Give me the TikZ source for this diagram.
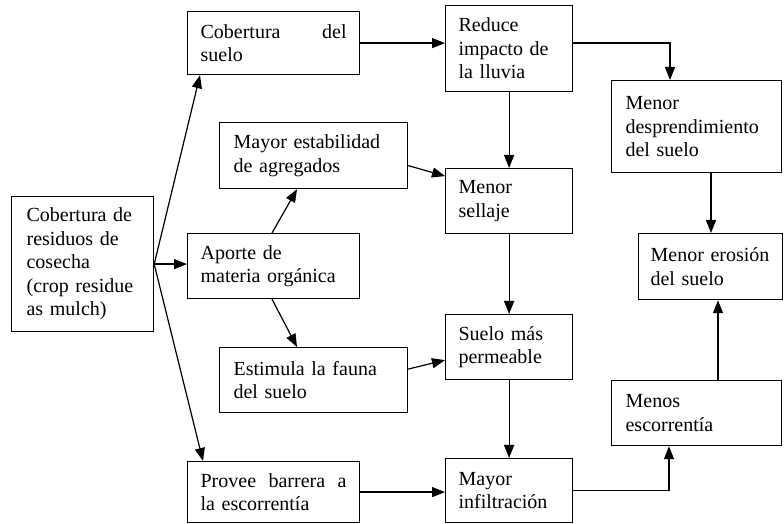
\documentclass[tikz,border=0pt]{standalone}
\usepackage{fontspec}
\setmainfont{Liberation Serif}
\usetikzlibrary{arrows.meta,calc,positioning}

\begin{document}
\begin{tikzpicture}[x=0.5pt,y=-0.5pt,>={Triangle[length=6.5pt,width=5pt]},
          every node/.style={font=\fontsize{10}{11.75}\selectfont},
          caja/.style={draw,line width=0.6pt,anchor=north west,align=left,
            inner xsep=7pt,inner ysep=1pt},
          flecha/.style={->,line width=0.6pt}]
        \useasboundingbox (0,0) rectangle (784,524);
        \node[caja,inner xsep=7.5pt,text width=56pt,minimum height=67.5pt] (res) at (11,196)
          {Cobertura de\\residuos de\\cosecha\\(crop residue\\as mulch)};
        \node[caja,inner xsep=6.5pt,text width=73pt,minimum height=31.5pt] (cob) at (187,11)
          {Cobertura\hfill del\\suelo};
        \node[caja,inner xsep=6.5pt,text width=73pt,minimum height=32.5pt] (apo) at (187,233)
          {Aporte de\\materia orgánica};
        \node[caja,inner xsep=6.5pt,text width=73pt,minimum height=30.5pt] (prov) at (187,461)
          {Provee\hfill barrera\hfill a\\la escorrentía};
        \node[caja,text width=80pt,minimum height=33pt] (mest) at (219,122)
          {Mayor estabilidad\\de agregados};
        \node[caja,text width=80pt,minimum height=32.5pt] (est) at (219,347)
          {Estimula la fauna\\del suelo};
        \node[caja,inner xsep=6.5pt,text width=50.5pt,minimum height=43pt] (red) at (445,5)
          {Reduce\\impacto de\\la lluvia};
        \node[caja,inner xsep=6.5pt,text width=50.5pt,minimum height=32.5pt] (sel) at (445,168)
          {Menor\\sellaje};
        \node[caja,inner xsep=6.5pt,text width=50.5pt,minimum height=32.5pt] (sue) at (445,314)
          {Suelo más\\permeable};
        \node[caja,inner xsep=6.5pt,text width=50.5pt,minimum height=32pt] (inf) at (445,458)
          {Mayor\\infiltración};
        \node[caja,text width=71pt,minimum height=46pt] (desp) at (611,80)
          {Menor\\desprendimiento\\del suelo};
        \node[caja,text width=71pt,minimum height=32.5pt] (esc) at (611,380)
          {Menos\\escorrentía};
        \node[caja,inner xsep=6pt,text width=60pt,minimum height=33pt] (ero) at (638,233)
          {Menor erosión\\del suelo};
        % conexiones
        \draw[flecha] (res.east) -- (res.east -| apo.west);
        \draw[flecha] (res.east) -- ([xshift=6.5pt]cob.south west);
        \draw[flecha] (res.east) -- ([xshift=8pt]prov.north west);
        \draw[flecha] ([xshift=42.5pt]apo.north west) -- ([xshift=39pt]mest.south west);
        \draw[flecha] ([xshift=42.5pt]apo.south west) -- ([xshift=39pt]est.north west);
        \draw[flecha] (cob.east) -- (cob.east -| red.west);
        \draw[flecha] (cob.east -| red.east) -| ([xshift=29.5pt]desp.north west);
        \draw[flecha] (red.south) -- (sel.north);
        \draw[flecha] ([yshift=-5pt]mest.east) -- ([yshift=12.5pt]sel.west);
        \draw[flecha] (sel.south) -- (sue.north);
        \draw[flecha] ([yshift=5.5pt]est.east) -- ([yshift=-6.5pt]sue.west);
        \draw[flecha] (sue.south) -- (inf.north);
        \draw[flecha] (prov.east) -- (prov.east -| inf.west);
        \draw[flecha] (inf.east) -| ([xshift=29pt]esc.south west);
        \draw[flecha] ([xshift=53.5pt]esc.north west) -- ([xshift=53.5pt]esc.north west |- ero.south);
        \draw[flecha] ([xshift=50pt]desp.south west) -- ([xshift=50pt]desp.south west |- ero.north);
      \end{tikzpicture}
\end{document}
